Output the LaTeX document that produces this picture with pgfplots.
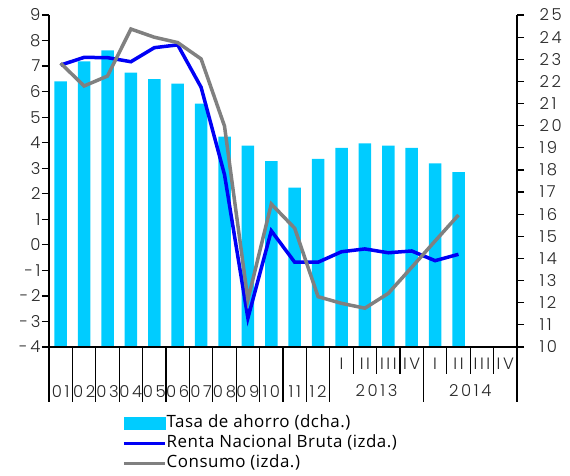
\documentclass[border=0pt]{standalone}
\usepackage{fontspec}
\setmainfont{Open Sans}[LetterSpace=3]
\newfontfamily\tickfont{Poppins Light}[LetterSpace=16]
\usepackage{pgfplots}
\usepackage{pgfplotstable}
\pgfplotsset{compat=1.18}

\definecolor{barcyan}{RGB}{0,204,255}
\definecolor{rnbblue}{RGB}{0,0,245}
\definecolor{consgray}{RGB}{128,128,128}

% x = centre of category; tasa on right axis, rnb/cons on left axis
\pgfplotstableread{
x    tasa  rnb    cons
0.5  22.0  7.04   7.11
1.5  22.9  7.34   6.22
2.5  23.4  7.33   6.61
3.5  22.4  7.17   8.45
4.5  22.1  7.72   8.13
5.5  21.9  7.83   7.92
6.5  21.0  6.17   7.28
7.5  19.5  2.75   4.65
8.5  19.1  -2.87  -2.15
9.5  18.4  0.55   1.60
10.5 17.2  -0.68  0.65
11.5 18.5  -0.68  -2.03
12.5 19.0  -0.27  -2.29
13.5 19.2  -0.16  -2.48
14.5 19.1  -0.31  -1.90
15.5 19.0  -0.24  -0.88
16.5 18.3  -0.62  0.15
17.5 17.9  -0.37  1.17
}\datos

\newcommand\tfont{\tickfont\fontsize{16.5}{16.5}\selectfont}
\tikzset{lab/.style={font=\tfont, text=black!85, inner sep=0pt}}
\pgfplotsset{
  base/.style={
    width=468bp, height=332bp, scale only axis,
    xmin=0, xmax=20,
    tick align=outside, major tick length=7bp,
    every tick/.style={black, line width=1.2bp},
    axis line style={black, line width=1.2bp},
    ticklabel style={font=\tfont, text=black!85},
  },
  longline/.style={legend image code/.code={\draw[##1] (0bp,0bp) -- (41bp,0bp);}},
}

\begin{document}
\begin{tikzpicture}
\path[use as bounding box] (-49bp,-129bp) rectangle (521bp,347bp);

% savings rate, right axis
\begin{axis}[base,
  ymin=10, ymax=25, ytick={10,...,25},
  yticklabels={10,11,12,13,14,15,16,17,18,19,20,21,22,23,24,25},
  yticklabel style={xshift=12bp},
  axis x line=none, axis y line*=right,
  xtick=\empty,
]
\addplot[ybar, bar width=12.5bp, fill=barcyan, draw=none] table[x=x, y=tasa] {\datos};
\end{axis}

% income and consumption, left axis
\begin{axis}[base,
  ymin=-4, ymax=9, ytick={-4,...,9},
  yticklabels={-4,-3,-2,-1,0,1,2,3,4,5,6,7,8,9},
  yticklabel style={xshift=2bp},
  axis y line*=left, axis x line*=bottom,
  xtick=\empty,
  clip=false,
  legend style={at={(axis description cs:0.156,-0.199)}, anchor=north west,
    draw=none, fill=none, font=\fontsize{17}{17}\selectfont,
    row sep=0bp, inner sep=0pt,
    nodes={inner ysep=1.5bp, inner xsep=0bp, text height=13bp, text depth=4bp}},
  legend cell align=left,
  after end axis/.code={
    \foreach \k in {0,...,12,16,20}
      \draw[line width=1.2bp] (axis cs:\k,-4) -- ++(0,-55bp);
    \foreach \k in {13,14,15,17,18,19}
      \draw[line width=1.2bp] (axis cs:\k,-4) -- ++(0,-27bp);
    \foreach \lab [count=\i from 0] in {01,02,03,04,05,06,07,08,09,10,11,12}
      \node[lab] at ([yshift=-45bp]axis cs:\i+0.5,-4) {\lab};
    \foreach \lab [count=\i from 0] in {I,II,III,IV,I,II,III,IV}
      \node[lab] at ([yshift=-17bp]axis cs:\i+12.5,-4) {\lab};
    \node[lab] at ([yshift=-44bp]axis cs:14,-4) {2013};
    \node[lab] at ([yshift=-44bp]axis cs:18,-4) {2014};
  },
]
\addlegendimage{legend image code/.code={\fill[barcyan] (0bp,-6bp) rectangle (41bp,6bp);}}
\addlegendentry{Tasa de ahorro (dcha.)}
\addplot[rnbblue, line width=3.5bp, longline] table[x=x, y=rnb] {\datos};
\addlegendentry{Renta Nacional Bruta (izda.)}
\addplot[consgray, line width=3.5bp, longline] table[x=x, y=cons] {\datos};
\addlegendentry{Consumo (izda.)}
\end{axis}
\end{tikzpicture}
\end{document}
